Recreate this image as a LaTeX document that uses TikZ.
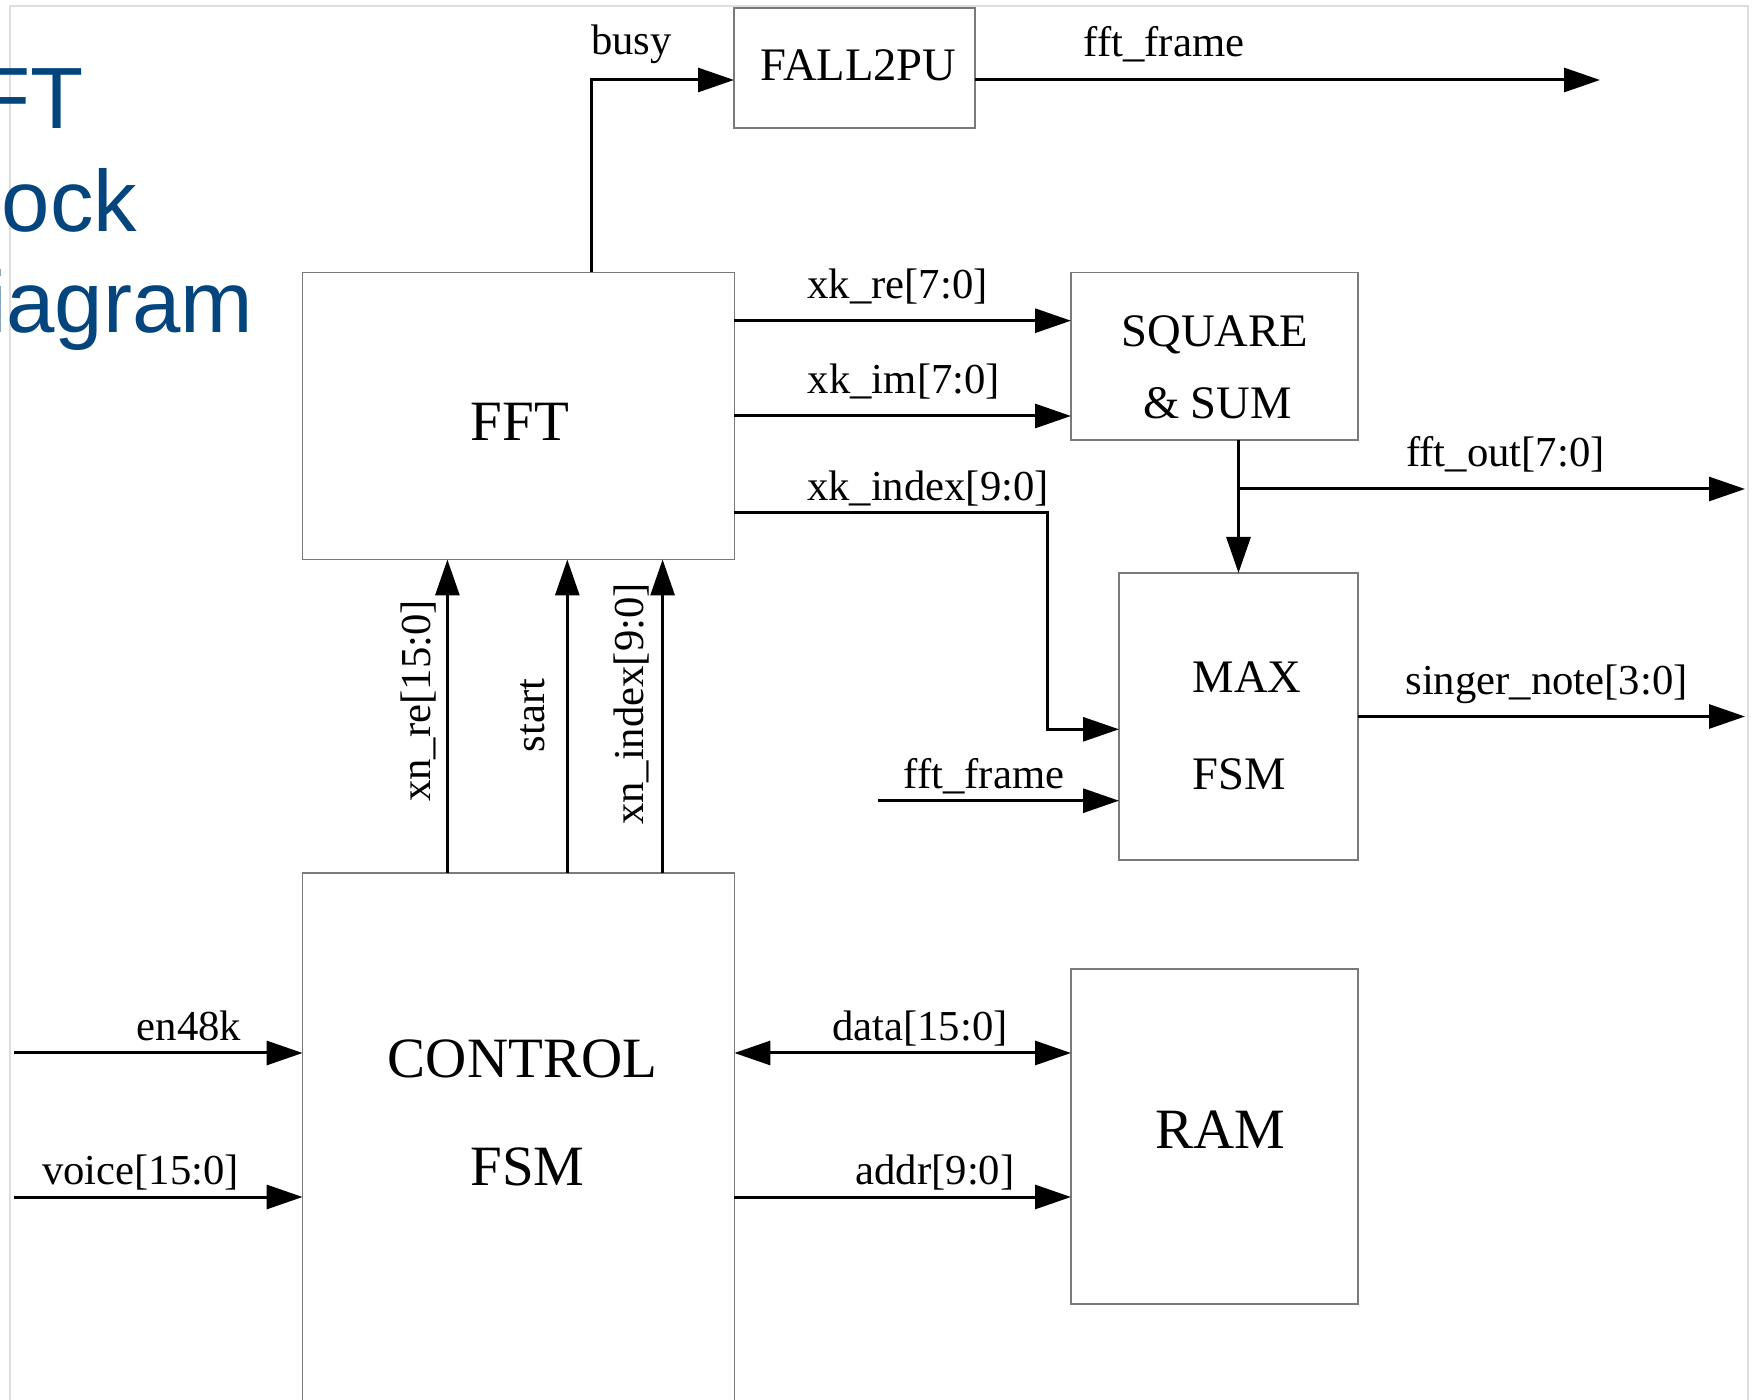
\documentclass[tikz,border=0pt]{standalone}
\usepackage{fontspec}
\setmainfont{Liberation Serif}
\newfontfamily\titlefont{Liberation Sans}
\usepackage{xcolor}
\usetikzlibrary{positioning,arrows.meta,calc}
\definecolor{ink}{HTML}{000000}
\definecolor{boxline}{HTML}{7A7A7A}
\definecolor{slideframe}{HTML}{DEDEDE}
\definecolor{titleblue}{HTML}{05457E}

\begin{document}
\begin{tikzpicture}[
  x=0.5pt, y=-0.5pt,
  blk/.style={rectangle, draw=boxline, line width=0.6pt, inner sep=0pt, outer sep=0pt},
  blkname/.style={font=\fontsize{28.5}{34}\selectfont, inner sep=0pt, anchor=base},
  subname/.style={font=\fontsize{23.3}{28}\selectfont, inner sep=0pt, anchor=base},
  sig/.style={font=\fontsize{21.35}{25}\selectfont, inner sep=0pt, anchor=base},
  ttl/.style={font=\titlefont\fontsize{43.5}{52}\selectfont, text=titleblue, inner sep=0pt, anchor=base west},
  arr/.style={-{Triangle[length=18pt,width=12pt]}, line width=1.5pt, draw=ink},
  biarr/.style={{Triangle[length=18pt,width=12pt]}-{Triangle[length=18pt,width=12pt]}, line width=1.5pt, draw=ink}
]
\useasboundingbox (0,0) rectangle (1758,1400);
\clip (0,0) rectangle (1758,1400);

% slide frame and title
\draw[slideframe, line width=1pt] (10,1400) -- (10,6) -- (1748,6) -- (1748,1400);
\node[ttl] (ttl1) at (-76,129) {FFT};
\node[ttl] (ttl2) at (-76,232) {Block};
\node[ttl] (ttl3) at (-76,333) {Diagram};

% blocks
\node[blk, minimum width=120.5pt, minimum height=60pt] (fall) at (854.5,68) {};
\node[blk, minimum width=215.9pt, minimum height=143.5pt] (fft) at (518.5,416) {};
\node[blk, minimum width=143.5pt, minimum height=83.75pt] (sq) at (1214.5,356.25) {};
\node[blk, minimum width=119.5pt, minimum height=143.5pt] (max) at (1238.5,716.5) {};
\node[blk, minimum width=215.9pt, minimum height=288.5pt] (ctrl) at (518.5,1161.5) {};
\node[blk, minimum width=143.5pt, minimum height=167.5pt] (ram) at (1214.5,1136.5) {};

% block names
\node[subname] (fallname) at (858.5,81) {FALL2PU};
\node[blkname] (fftname) at (520,441) {FFT};
\node[subname] (sqname1) at (1215,347) {SQUARE};
\node[subname] (sqname2) at (1217.5,419) {\& SUM};
\node[subname] (maxname1) at (1247,693) {MAX};
\node[subname] (maxname2) at (1239,790) {FSM};
\node[blkname] (ctrlname1) at (522.5,1078) {CONTROL};
\node[blkname] (ctrlname2) at (527.5,1186) {FSM};
\node[blkname] (ramname) at (1220,1149) {RAM};

% free ends
\coordinate (frout) at (1600,80);
\coordinate (fftout) at (1745,489);
\coordinate (noteout) at (1745,716.5);
\coordinate (frin) at (878,800.7);
\coordinate (enin) at (14,1053);
\coordinate (voicein) at (14,1197);

% signals
\draw[arr] ($(fft.north)+(72.5,0)$) |- ($(fall.west)+(0,12)$);
\draw[arr] ($(fall.east)+(0,12)$) -- (frout);
\draw[arr] ($(fft.east)+(0,-95.3)$) coordinate (xkre) -- (xkre -| sq.west);
\draw[arr] (fft.east) -- (fft.east -| sq.west);
\draw[arr] ($(fft.east)+(0,97)$) -| ($(max.west)+(-72,12.8)$) -- ($(max.west)+(0,12.8)$);
\draw[arr] (sq.south -| max.north) -- (max.north);
\draw[arr] (fftout -| max.north) -- (fftout);
\draw[arr] (max.east) -- (noteout);
\draw[arr] (frin) -- (frin -| max.west);
\draw[arr] ($(ctrl.north)+(-71.1,0)$) -- ($(fft.south)+(-71.1,0)$);
\draw[arr] ($(ctrl.north)+(48.8,0)$) -- ($(fft.south)+(48.8,0)$);
\draw[arr] ($(ctrl.north)+(144.1,0)$) -- ($(fft.south)+(144.1,0)$);
\draw[arr] (enin) -- (enin -| ctrl.west);
\draw[arr] (voicein) -- (voicein -| ctrl.west);
\draw[biarr] (enin -| ctrl.east) -- (enin -| ram.west);
\draw[arr] (voicein -| ctrl.east) -- (voicein -| ram.west);

% signal names
\node[sig] (busylbl) at (631.5,55) {busy};
\node[sig] (froutlbl) at (1164,57) {fft\_frame};
\node[sig] (xkrelbl) at (897.5,299) {xk\_re[7:0]};
\node[sig] (xkimlbl) at (904,394) {xk\_im[7:0]};
\node[sig] (xkidxlbl) at (928,501) {xk\_index[9:0]};
\node[sig] (outlbl) at (1505.5,467) {fft\_out[7:0]};
\node[sig] (notelbl) at (1546.5,695) {singer\_note[3:0]};
\node[sig] (frinlbl) at (984,789) {fft\_frame};
\node[sig] (enlbl) at (189,1041) {en48k};
\node[sig] (voicelbl) at (140.5,1184) {voice[15:0]};
\node[sig] (datalbl) at (920,1041) {data[15:0]};
\node[sig] (addrlbl) at (935,1185) {addr[9:0]};
\node[sig, rotate=90] (xnrelbl) at (430,701) {xn\_re[15:0]};
\node[sig, rotate=90] (startlbl) at (544,715.5) {start};
\node[sig, rotate=90] (xnidxlbl) at (643,704) {xn\_index[9:0]};

\end{tikzpicture}
\end{document}
